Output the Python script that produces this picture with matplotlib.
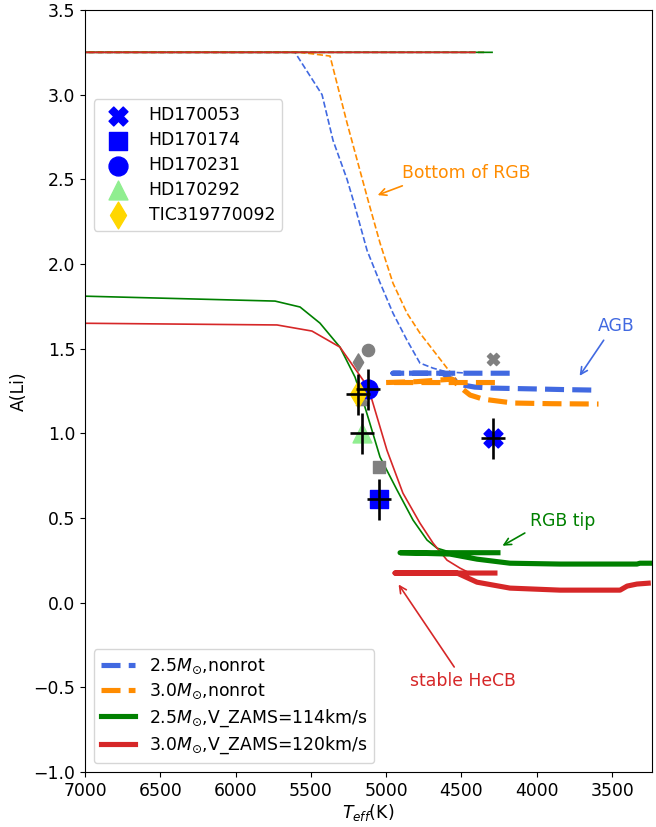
import numpy as np
import matplotlib
matplotlib.use('Agg')
import matplotlib.pyplot as plt

plt.rcParams['font.size'] = 12.4

# observed stars: Teff, A(Li) and errors
star_names = ['HD170053', 'HD170174', 'HD170231', 'HD170292', 'TIC319770092']
star_markers = ['X', 's', 'o', '^', 'd']
star_colors = ['blue', 'blue', 'blue', 'lightgreen', 'gold']
star_teff = [4290, 5050, 5120, 5160, 5190]
star_ali = [0.97, 0.61, 1.26, 1.00, 1.23]
star_teff_err = [80, 80, 80, 80, 80]
star_ali_err = [0.12, 0.12, 0.12, 0.12, 0.12]
# other (grey) determinations of the same stars
grey_ali = [1.44, 0.80, 1.49, 1.20, 1.42]

# model tracks, thin part (pre-MS / RGB)
t25_nonrot = [4350, 12000, 5606, 5426, 5353, 5260, 5220, 5127, 5041, 4955,
              4862, 4776, 4689, 4596, 4463]
a25_nonrot = [3.25, 3.25, 3.25, 3.00, 2.73, 2.50, 2.38, 2.08, 1.89, 1.71,
              1.55, 1.415, 1.385, 1.362, 1.356]
t30_nonrot = [4350, 12000, 5570, 5373, 5260, 5121, 5041, 4955, 4862, 4776,
              4689, 4596, 4530]
a30_nonrot = [3.25, 3.25, 3.25, 3.228, 2.833, 2.378, 2.124, 1.887, 1.71,
              1.592, 1.492, 1.385, 1.315]
t25_rot = [4297, 12000, 12000, 7000, 5738, 5572, 5440, 5307, 5207, 5141,
           5041, 4928, 4822, 4729, 4663, 4556]
a25_rot = [3.25, 3.25, 1.81, 1.81, 1.781, 1.746, 1.651, 1.509, 1.332, 1.155,
           0.86, 0.665, 0.488, 0.37, 0.322, 0.293]
t30_rot = [4410, 12000, 12000, 7000, 5725, 5493, 5307, 5121, 5094, 4995,
           4889, 4776, 4689, 4596, 4510, 4443]
a30_rot = [3.25, 3.25, 1.65, 1.65, 1.64, 1.604, 1.509, 1.273, 1.196, 0.90,
           0.647, 0.47, 0.352, 0.251, 0.204, 0.174]

# model tracks, thick part (HeCB / AGB)
t25_nonrot_late = [4180, 4600, 4955, 4623, 4590, 4490, 4411, 4291, 4000,
                   3800, 3600]
a25_nonrot_late = [1.355, 1.355, 1.355, 1.355, 1.33, 1.285, 1.273, 1.267,
                   1.262, 1.258, 1.255]
t30_nonrot_late = [4278, 4600, 5001, 4800, 4563, 4510, 4443, 4357, 4158,
                   3900, 3590]
a30_nonrot_late = [1.30, 1.30, 1.30, 1.305, 1.32, 1.273, 1.226, 1.202, 1.179,
                   1.175, 1.173]
t25_rot_late = [4258, 4600, 4908, 4577, 4397, 4178, 3846, 3335, 3315, 3200]
a25_rot_late = [0.295, 0.295, 0.295, 0.287, 0.257, 0.233, 0.228, 0.228,
                0.233, 0.233]
t30_rot_late = [4278, 4600, 4941, 4530, 4397, 4178, 3846, 3447, 3400, 3335,
                3260]
a30_rot_late = [0.175, 0.175, 0.175, 0.175, 0.121, 0.086, 0.074, 0.074,
                0.098, 0.11, 0.115]

c25n, c30n, c25r, c30r = 'royalblue', 'darkorange', 'green', 'tab:red'

fig = plt.figure(figsize=(6.56, 8.27), dpi=100)
ax = fig.add_axes([85 / 656, 55 / 827, 567 / 656, 762 / 827])

ax.plot(t25_nonrot, a25_nonrot, '--', color=c25n, lw=1.2)
ax.plot(t30_nonrot, a30_nonrot, '--', color=c30n, lw=1.2)
ax.plot(t25_rot, a25_rot, '-', color=c25r, lw=1.2)
ax.plot(t30_rot, a30_rot, '-', color=c30r, lw=1.2)

h1, = ax.plot(t25_nonrot_late, a25_nonrot_late, '--', color=c25n, lw=3.7,
              label=r'2.5$M_{\odot}$,nonrot')
h2, = ax.plot(t30_nonrot_late, a30_nonrot_late, '--', color=c30n, lw=3.7,
              label=r'3.0$M_{\odot}$,nonrot')
h3, = ax.plot(t25_rot_late, a25_rot_late, '-', color=c25r, lw=3.7,
              label=r'2.5$M_{\odot}$,V_ZAMS=114km/s')
h4, = ax.plot(t30_rot_late, a30_rot_late, '-', color=c30r, lw=3.7,
              label=r'3.0$M_{\odot}$,V_ZAMS=120km/s')

star_handles = []
for i in range(len(star_names)):
    ax.scatter(star_teff[i], grey_ali[i], marker=star_markers[i], s=77,
               color='grey', zorder=3)
for i in range(len(star_names)):
    h = ax.scatter(star_teff[i], star_ali[i], marker=star_markers[i], s=185,
                   color=star_colors[i], zorder=3, label=star_names[i])
    star_handles.append(h)
ax.errorbar(star_teff, star_ali, xerr=star_teff_err, yerr=star_ali_err,
            fmt='none', ecolor='k', elinewidth=1.9, zorder=4)

ax.annotate('Bottom of RGB', xy=(5074, 2.401), xytext=(4895, 2.537),
            color=c30n, ha='left', va='center',
            arrowprops=dict(arrowstyle='->', color=c30n, lw=1.2,
                            relpos=(0.08, 0)))
ax.annotate('AGB', xy=(3726, 1.326), xytext=(3594, 1.633),
            color=c25n, ha='left', va='center',
            arrowprops=dict(arrowstyle='->', color=c25n, lw=1.2,
                            relpos=(0.25, 0)))
ax.annotate('RGB tip', xy=(4244, 0.328), xytext=(4045, 0.482),
            color=c25r, ha='left', va='center',
            arrowprops=dict(arrowstyle='->', color=c25r, lw=1.2,
                            relpos=(0.0, 0.0)))
ax.annotate('stable HeCB', xy=(4928, 0.121), xytext=(4842, -0.463),
            color=c30r, ha='left', va='center',
            arrowprops=dict(arrowstyle='->', color=c30r, lw=1.2,
                            relpos=(0.45, 1.0)))

leg1 = ax.legend(handles=star_handles, loc='upper left',
                 bbox_to_anchor=(0.0, 0.894), scatterpoints=1,
                 labelspacing=0.4)
ax.add_artist(leg1)
ax.legend(handles=[h1, h2, h3, h4], loc='lower left', labelspacing=0.36)

ax.set_xlim(7000, 3235)
ax.set_ylim(-1.0, 3.5)
ax.set_xlabel('$T_{eff}$(K)', labelpad=1.5)
ax.set_ylabel('A(Li)')

fig.savefig('out.png', dpi=100)
